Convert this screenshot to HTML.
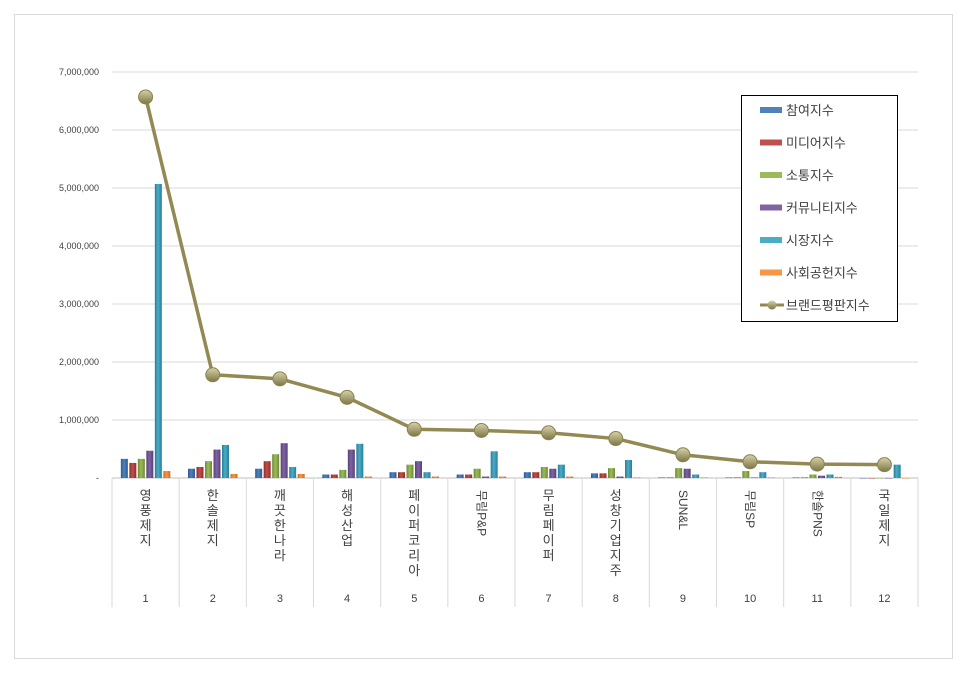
<!DOCTYPE html>
<html><head><meta charset="utf-8"><style>
body{margin:0;background:#fff;font-family:"Liberation Sans","Noto Sans CJK KR",sans-serif}
</style></head><body>
<svg id="c" width="966" height="673" style="display:block">
<defs>
<linearGradient id="gl" x1="0" y1="0" x2="0" y2="1"><stop offset="0" stop-color="#d6d2a8"/><stop offset="1" stop-color="#7d7645"/></linearGradient>
</defs>
<rect x="14.5" y="14.5" width="938" height="644" fill="#fff" stroke="#d9d9d9"/>
</svg>
<script>
const categories=["영풍제지","한솔제지","깨끗한나라","해성산업","페이퍼코리아","무림P&P","무림페이퍼","성창기업지주","SUN&L","무림SP","한솔PNS","국일제지"];
const participation=[330000,160000,160000,60000,100000,60000,100000,80000,10000,10000,10000,0];
const media=[260000,190000,290000,60000,100000,60000,100000,80000,10000,10000,10000,0];
const communication=[330000,290000,410000,140000,230000,160000,190000,170000,170000,120000,60000,0];
const community=[470000,490000,600000,490000,290000,25000,160000,25000,160000,10000,40000,0];
const market=[5070000,570000,190000,590000,100000,460000,230000,310000,60000,100000,60000,230000];
const social=[120000,70000,70000,25000,25000,25000,25000,10000,10000,10000,20000,0];
const brand=[6570000,1780000,1710000,1390000,840000,820000,780000,680000,400000,280000,240000,230000];
const yTicks=[0,1000000,2000000,3000000,4000000,5000000,6000000,7000000];
const yTickLabels=["-","1,000,000","2,000,000","3,000,000","4,000,000","5,000,000","6,000,000","7,000,000"];
const seriesNames=["참여지수","미디어지수","소통지수","커뮤니티지수","시장지수","사회공헌지수"];
const seriesData=[participation,media,communication,community,market,social];
const colors=[["#4f81bd","#2c5a92"],["#c0504d","#922b28"],["#9bbb59","#6d8a32"],["#8064a2","#57407a"],["#4bacc6","#267f98"],["#f79646","#c7701f"]];
const svg=document.getElementById('c');const NS="http://www.w3.org/2000/svg";
const X0=112,X1=918,Y0=478,Y1=72;
const y=v=>Y0-(v/7000000)*(Y0-Y1);
const cw=(X1-X0)/categories.length;
const xc=i=>X0+cw*(i+0.5);
function mk(t,a,p){const e=document.createElementNS(NS,t);for(const k in a)e.setAttribute(k,a[k]);(p||svg).appendChild(e);return e;}
const defs=svg.querySelector('defs');
colors.forEach((c,j)=>{const g=mk('linearGradient',{id:'g'+j,x1:0,y1:0,x2:1,y2:0},defs);mk('stop',{offset:0,'stop-color':c[1]},g);mk('stop',{offset:0.45,'stop-color':c[0]},g);mk('stop',{offset:1,'stop-color':c[1]},g);});
yTicks.forEach((t,i)=>{
 if(i>0){const l=mk('line',{x1:X0,x2:X1,y1:y(t),y2:y(t),stroke:'#d9d9d9'});}
 const tx=mk('text',{x:99,y:y(t)+3,'text-anchor':'end','font-size':9,fill:'#404040'});tx.textContent=yTickLabels[i];
 
});
const ax=mk('line',{x1:X0,x2:X1,y1:Y0,y2:Y0,stroke:'#bfbfbf'});
for(let i=0;i<=categories.length;i++){const l=mk('line',{x1:X0+cw*i,x2:X0+cw*i,y1:Y0,y2:607,stroke:'#d9d9d9'});}
const bw=7,gap=1.5;
categories.forEach((c,i)=>{
 seriesData.forEach((s,j)=>{
  const bx=xc(i)-(6*bw+5*gap)/2+j*(bw+gap);const top=y(s[i]);
  const r=mk('rect',{x:bx,y:top,width:bw,height:Math.max(Y0-top,0.5),fill:'url(#g'+j+')'});
  
 });
 const isLatin=/^[A-Za-z&]/.test(c);
 if(isLatin||/[A-Z]/.test(c)){
  const t=mk('text',{x:xc(i)-4,y:490,'font-size':12,fill:'#404040',transform:`rotate(90 ${xc(i)-4} 490)`});t.textContent=c;
  
 } else {
  const t=mk('text',{x:xc(i),y:500,'font-size':13,fill:'#404040','text-anchor':'middle'});
  
  [...c].forEach((ch,k)=>{const ts=mk('tspan',{x:xc(i),dy:k?15:0},t);ts.textContent=ch;});
 }
 const n=mk('text',{x:xc(i),y:602,'font-size':11,fill:'#404040','text-anchor':'middle'});n.textContent=i+1;
 
});
const pl=mk('polyline',{points:brand.map((v,i)=>xc(i)+','+y(v)).join(' '),fill:'none',stroke:'#938953',"stroke-width":3.5});

brand.forEach((v,i)=>{const m=mk('circle',{cx:xc(i),cy:y(v),r:7,fill:'url(#gl)',stroke:'#8a8250'});});
const lg=mk('g',{});
mk('rect',{x:741.5,y:95.5,width:156,height:226,fill:'#fff',stroke:'#000'},lg);
seriesNames.concat(["브랜드평판지수"]).forEach((nm,j)=>{
 const ly=110+j*32.5;
 if(j<6)mk('rect',{x:760,y:ly-3,width:22,height:6,fill:colors[j][0]},lg);
 else{mk('line',{x1:760,x2:784,y1:ly,y2:ly,stroke:'#938953','stroke-width':3},lg);mk('circle',{cx:772,cy:ly,r:4.5,fill:'url(#gl)'},lg);}
 const t=mk('text',{x:786,y:ly+5,'font-size':13,fill:'#404040'},lg);t.textContent=nm;
 
});
</script></body></html>
